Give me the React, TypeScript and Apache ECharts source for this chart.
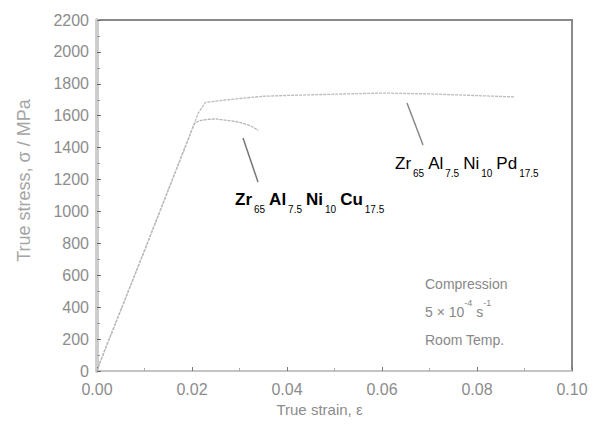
import React, { useEffect, useRef } from "react";
import * as echarts from "echarts";

const cuCurve: [number, number][] = [
  [0, 0], [0.0007, 60], [0.0098, 740], [0.0205, 1550], [0.0215, 1568], [0.023, 1576],
  [0.025, 1580], [0.027, 1572], [0.029, 1565], [0.031, 1550], [0.0325, 1534], [0.034, 1508],
];
const pdCurve: [number, number][] = [
  [0, 0], [0.0007, 60], [0.0098, 740], [0.0205, 1552], [0.0213, 1615], [0.0228, 1683],
  [0.026, 1695], [0.03, 1708], [0.035, 1722], [0.04, 1727], [0.05, 1735], [0.06, 1742],
  [0.07, 1737], [0.08, 1726], [0.088, 1718],
];
const xTicks = ["0.00", "0.02", "0.04", "0.06", "0.08", "0.10"];
const yMax = 2200;

const FONT = "Liberation Sans, Arial, sans-serif";

function formula(parts: [string, string][]) {
  return parts.map(([a, s]) => `{a|${a}}{s|${s}}`).join("");
}

export default function App() {
  const ref = useRef<HTMLDivElement>(null);
  useEffect(() => {
    if (!ref.current) return;
    const chart = echarts.init(ref.current, undefined, { renderer: "svg" });
    const grey = "#8c8c8c";
    const richMain = (weight: string, color: string, subColor: string) => ({
      a: { fontSize: 17, lineHeight: 17, verticalAlign: "top", fontWeight: weight, color, fontFamily: FONT },
      s: { fontSize: 10, lineHeight: 9, verticalAlign: "top", color: subColor, fontFamily: FONT, padding: [13, 4, 0, 2] },
    });
    chart.setOption({
      animation: false,
      textStyle: { fontFamily: FONT },
      grid: { left: 97, right: 24, top: 20, bottom: 60, show: true, borderColor: "#8a8a8a", borderWidth: 2 },
      xAxis: {
        type: "value",
        min: 0,
        max: 0.1,
        interval: 0.02,
        name: "True strain, ε",
        nameLocation: "middle",
        nameGap: 30,
        nameTextStyle: { fontSize: 15, color: grey, fontFamily: FONT, padding: [0, 30, 0, 0] },
        axisLine: { lineStyle: { color: "#c4c4c4", width: 2 } },
        axisTick: { inside: true, length: 4, lineStyle: { color: "#777" } },
        minorTick: { show: true, splitNumber: 2, length: 3, lineStyle: { color: "#aaa" } },
        splitLine: { show: false },
        axisLabel: {
          fontSize: 16, color: grey, margin: 10, fontFamily: FONT,
          formatter: (v: number) => xTicks[Math.round(v / 0.02)] ?? "",
        },
      },
      yAxis: {
        type: "value",
        min: 0,
        max: yMax,
        interval: 200,
        name: "True stress, σ / MPa",
        nameLocation: "middle",
        nameGap: 64,
        nameTextStyle: { fontSize: 18, color: "#a5a5a5", fontFamily: FONT, padding: [0, 0, 0, 30] },
        axisLine: { lineStyle: { color: "#cdcdcd", width: 4 } },
        axisTick: { inside: true, length: 4, lineStyle: { color: "#666" } },
        minorTick: { show: true, splitNumber: 2, length: 3, lineStyle: { color: "#999" } },
        splitLine: { show: false },
        axisLabel: { fontSize: 16, color: grey, margin: 8, fontFamily: FONT, formatter: (v: number) => String(v) },
      },
      series: [
        {
          type: "line",
          name: "Cu",
          data: cuCurve,
          showSymbol: false,
          lineStyle: { color: "#b5b5b5", width: 1.3, type: [3, 1] },
        },
        {
          type: "line",
          name: "Pd",
          data: pdCurve,
          showSymbol: false,
          lineStyle: { color: "#bcbcbc", width: 1.3, type: [3, 1] },
        },
      ],
      graphic: [
        { type: "line", shape: { x1: 243, y1: 138, x2: 258, y2: 182 }, style: { stroke: "#777", lineWidth: 1.5 } },
        { type: "line", shape: { x1: 407, y1: 103, x2: 423, y2: 145 }, style: { stroke: "#888", lineWidth: 1.5 } },
        {
          type: "text",
          x: 235,
          y: 191,
          style: {
            text: formula([["Zr", "65"], ["Al", "7.5"], ["Ni", "10"], ["Cu", "17.5"]]),
            rich: richMain("bold", "#222", "#777"),
            verticalAlign: "top",
            align: "left",
          },
        },
        {
          type: "text",
          x: 395,
          y: 155,
          style: {
            text: formula([["Zr", "65"], ["Al", "7.5"], ["Ni", "10"], ["Pd", "17.5"]]),
            rich: richMain("normal", "#444", "#888"),
            verticalAlign: "top",
            align: "left",
          },
        },
        {
          type: "text",
          x: 425,
          y: 270,
          style: {
            text: "Compression\n{n|5 × 10}{p|-4}{n| s}{p|-1}\nRoom Temp.",
            fontSize: 14,
            lineHeight: 28,
            fill: "#888",
            fontFamily: FONT,
            rich: {
              n: { fontSize: 14, color: "#888", fontFamily: FONT, lineHeight: 28 },
              p: { fontSize: 9, color: "#888", fontFamily: FONT, verticalAlign: "top", lineHeight: 20 },
            },
          },
        },
      ],
    });
    return () => chart.dispose();
  }, []);
  return <div ref={ref} style={{ width: 596, height: 431, position: "absolute", left: 0, top: 0 }} />;
}
